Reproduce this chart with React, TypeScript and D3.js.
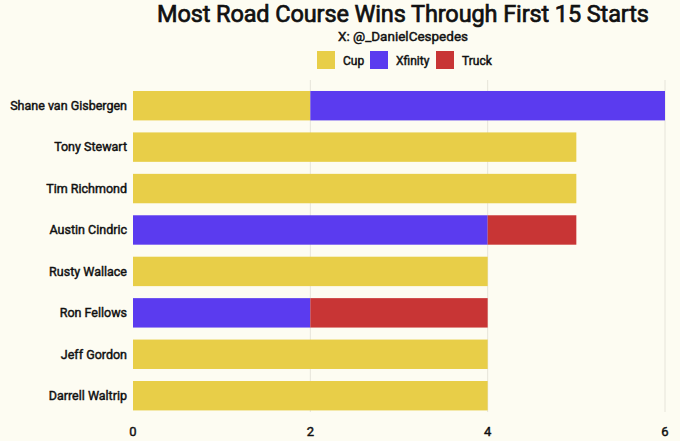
import * as d3 from "d3";

const drivers = [
  "Shane van Gisbergen",
  "Tony Stewart",
  "Tim Richmond",
  "Austin Cindric",
  "Rusty Wallace",
  "Ron Fellows",
  "Jeff Gordon",
  "Darrell Waltrip",
];
const cupWins = [2, 5, 5, 0, 4, 0, 4, 4];
const xfinityWins = [4, 0, 0, 4, 0, 2, 0, 0];
const truckWins = [0, 0, 0, 1, 0, 2, 0, 0];
const xTicks = [0, 2, 4, 6];

const series = [
  { key: "Cup", label: "Cup", color: "#e8ce48", values: cupWins },
  { key: "Xfinity", label: "Xfinity", color: "#5b3bef", values: xfinityWins },
  { key: "Truck", label: "Truck", color: "#c83535", values: truckWins },
];

const width = 680;
const height = 441;
const margin = { top: 80, right: 15, bottom: 30, left: 133 };
const font = "Roboto, 'Noto Sans', sans-serif";
// Roboto Medium isn't available, so fake it with a thin outline on Regular
const medium = { fontWeight: 400, stroke: "#111", strokeWidth: 0.45, fill: "#111" };

export default function App() {
  const x = d3.scaleLinear().domain([0, 6]).range([margin.left, width - margin.right]);
  const y = d3
    .scaleBand<string>()
    .domain(drivers)
    .range([82.7, 418.7])
    .paddingInner(0.29)
    .paddingOuter(0.2);

  const rows = drivers.map((name, i) => {
    let acc = 0;
    const segs = series.map((s) => {
      const x0 = acc;
      acc += s.values[i];
      return { key: s.key, color: s.color, x0, x1: acc };
    });
    return { name, segs };
  });

  const legendX = [317, 370, 436];

  return (
    <svg
      width={width}
      height={height}
      style={{ position: "absolute", left: 0, top: 0, background: "#fdfcf2" }}
      fontFamily={font}
    >
      <rect width={width} height={height} fill="#fdfcf2" />
      <text x={403} y={22} textAnchor="middle" fontSize={23.5} {...medium} strokeWidth={0.7} textLength={492}>
        Most Road Course Wins Through First 15 Starts
      </text>
      <text x={403} y={41} textAnchor="middle" fontSize={13.5} {...medium}>
        X: @_DanielCespedes
      </text>
      {series.map((s, i) => (
        <g key={s.key} transform={`translate(${legendX[i]},51)`}>
          <rect width={18} height={18} fill={s.color} />
          <text x={26} y={14} fontSize={12} {...medium}>
            {s.label}
          </text>
        </g>
      ))}
      {xTicks.slice(1).map((t) => (
        <line key={t} x1={x(t)} x2={x(t)} y1={80} y2={412} stroke="#e6e4da" strokeWidth={1} />
      ))}
      {rows.map((r) => (
        <g key={r.name}>
          {r.segs
            .filter((s) => s.x1 > s.x0)
            .map((s) => (
              <rect
                key={s.key}
                x={x(s.x0)}
                y={y(r.name)}
                width={x(s.x1) - x(s.x0)}
                height={y.bandwidth()}
                fill={s.color}
              />
            ))}
          <text
            x={margin.left - 6}
            y={(y(r.name) ?? 0) + y.bandwidth() / 2}
            dy="0.35em"
            textAnchor="end"
            fontSize={12.5}
            {...medium}
          >
            {r.name}
          </text>
        </g>
      ))}
      {xTicks.map((t) => (
        <text key={t} x={x(t)} y={436} textAnchor="middle" fontSize={13} {...medium}>
          {t}
        </text>
      ))}
    </svg>
  );
}
